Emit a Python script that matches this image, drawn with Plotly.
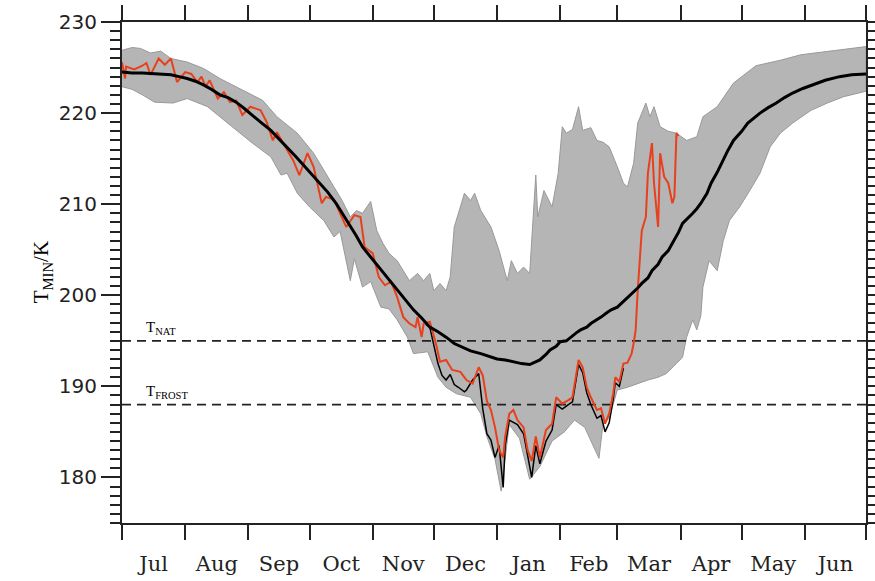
import pandas as pd
import plotly.graph_objects as go

# ---------------- data (day index counted from 1 July) ----------------
upper_days = [0, 5, 9, 14, 19, 24, 32, 40, 48, 56, 64, 69, 76, 86, 94, 102, 108, 112, 115, 118,
              122, 125, 128, 131, 135, 138, 141, 145, 148, 151, 153, 156, 159, 161, 163, 166, 168,
              171, 173, 176, 181, 185, 189, 191, 194, 197, 200, 203, 204, 207, 209, 211, 214, 216,
              218, 221, 224, 226, 230, 233, 236, 239, 243, 246, 248, 251, 253, 257, 259, 261, 264,
              268, 272, 277, 282, 285, 292, 300, 311, 323, 333, 347, 365]
upper_vals = [226.9, 227.2, 227.1, 226.6, 226.8, 226.0, 225.6, 224.9, 223.8, 222.9, 222.0, 221.4,
              219.6, 217.8, 215.6, 212.6, 210.4, 208.6, 209.3, 209.0, 210.3, 207.1, 205.7, 204.6,
              203.8, 202.7, 201.6, 202.4, 201.6, 202.4, 200.5, 201.3, 200.5, 202.0, 207.5, 209.7,
              211.2, 210.4, 211.2, 209.3, 207.5, 204.9, 201.6, 203.8, 202.4, 203.1, 202.4, 213.2,
              208.6, 211.5, 210.5, 209.7, 213.4, 218.5, 217.8, 218.2, 220.7, 218.1, 218.4, 217.0,
              216.8, 216.3, 214.1, 212.3, 211.9, 214.5, 218.9, 221.1, 219.6, 220.7, 218.5, 218.0,
              217.8, 217.0, 217.4, 219.6, 220.7, 223.3, 225.2, 225.8, 226.4, 226.8, 227.3]

lower_days = [0, 5, 10, 16, 25, 32, 42, 48, 56, 64, 73, 78, 81, 86, 92, 99, 104, 107, 112, 114,
              118, 122, 127, 131, 135, 140, 143, 150, 155, 159, 164, 171, 176, 179, 183, 186, 190,
              195, 200, 205, 211, 217, 222, 227, 234, 236, 239, 243, 248, 253, 258, 263, 267, 272,
              275, 277, 280, 282, 284, 285, 288, 292, 295, 298, 303, 308, 313, 318, 323, 329, 338,
              346, 354, 365]
lower_vals = [222.9, 222.6, 222.0, 221.2, 221.1, 221.6, 220.7, 219.6, 218.1, 216.7, 215.2, 213.2,
              213.4, 211.2, 209.7, 208.2, 206.4, 207.0, 201.6, 204.0, 200.9, 201.5, 198.7, 198.5,
              197.3, 195.4, 193.6, 193.8, 191.0, 189.9, 189.2, 188.8, 187.0, 184.5, 182.0, 178.5,
              185.8, 184.3, 179.8, 181.2, 184.0, 185.0, 186.3, 185.5, 182.1, 185.9, 186.5, 189.6,
              189.9, 190.3, 190.7, 191.0, 191.4, 192.5, 193.2, 195.4, 197.3, 196.2, 197.8, 200.9,
              203.8, 202.7, 206.0, 208.2, 209.7, 211.5, 213.4, 216.3, 217.8, 218.9, 220.3, 221.1,
              221.8, 222.4]

mean_days = [0, 5, 10, 16, 24, 28, 32, 36, 40, 44, 48, 52, 56, 60, 64, 68, 73, 77, 81, 85, 89, 93,
             97, 101, 105, 109, 112, 115, 118, 122, 127, 131, 135, 139, 143, 147, 151, 155, 159,
             163, 167, 171, 176, 180, 184, 188, 192, 196, 200, 203, 205, 208, 210, 213, 215, 218,
             220, 223, 225, 228, 230, 233, 235, 238, 240, 243, 245, 248, 250, 253, 255, 258, 260,
             263, 265, 268, 270, 273, 275, 278, 280, 282, 284, 287, 289, 292, 294, 297, 300, 304,
             307, 310, 313, 317, 321, 325, 329, 334, 339, 345, 352, 358, 365]
mean_vals = [224.5, 224.4, 224.4, 224.3, 224.2, 224.0, 223.8, 223.5, 223.1, 222.6, 222.0, 221.7,
             221.2, 220.5, 219.8, 219.0, 218.1, 217.2, 216.3, 215.3, 214.3, 213.3, 212.3, 211.3,
             210.1, 208.7, 207.5, 206.5, 205.3, 204.2, 202.7, 201.6, 200.5, 199.5, 198.4, 197.5,
             196.5, 196.0, 195.4, 194.7, 194.3, 193.9, 193.6, 193.3, 193.0, 192.9, 192.7, 192.5,
             192.4, 192.7, 192.9, 193.5, 194.0, 194.4, 194.9, 195.0, 195.4, 195.9, 196.2, 196.5,
             196.9, 197.3, 197.6, 198.1, 198.4, 198.7, 199.1, 199.8, 200.2, 200.8, 201.3, 201.9,
             202.7, 203.4, 204.2, 204.9, 205.7, 206.9, 207.9, 208.5, 209.0, 209.5, 210.1, 211.2,
             212.3, 213.5, 214.5, 215.8, 217.0, 218.0, 218.9, 219.5, 220.0, 220.6, 221.1, 221.7,
             222.2, 222.7, 223.1, 223.6, 224.0, 224.2, 224.3]

red_days = [0, 1.5, 2, 6, 10, 12, 14, 18, 21, 24, 27, 31, 34, 37, 39, 41, 43, 47, 50, 53, 56, 59,
            63, 68, 71, 74, 76, 79, 84, 87, 91, 94, 98, 100, 104, 107, 110, 114, 117, 119, 123,
            126, 129, 132, 135, 138, 141, 144, 145, 147, 148, 151, 154, 156, 159, 162, 166, 169,
            172, 175, 177, 179, 181, 183, 185, 187, 188, 190, 192, 194, 197, 199, 201, 203, 205,
            208, 211, 213, 216, 219, 221, 224, 226, 228, 230, 233, 235, 237, 239, 241, 242, 244,
            246, 248, 250, 251, 252, 253, 254, 255, 257, 258, 260, 261, 263, 264, 266, 268, 270,
            271, 272, 273]
red_vals = [225.6, 223.8, 225.1, 224.8, 225.2, 225.5, 224.2, 226.0, 225.3, 226.0, 223.4, 224.5,
            224.3, 223.4, 224.0, 222.9, 223.6, 221.6, 222.3, 221.2, 221.4, 219.8, 220.7, 220.3,
            219.0, 217.0, 217.9, 216.7, 214.8, 213.2, 215.6, 214.1, 210.1, 210.8, 210.5, 209.0,
            207.5, 208.8, 208.6, 205.3, 204.6, 202.0, 201.1, 201.5, 199.8, 197.6, 196.9, 196.5,
            197.6, 195.4, 196.9, 197.1, 194.7, 192.7, 192.9, 191.8, 191.6, 190.7, 190.3, 192.1,
            191.2, 188.4, 187.4, 185.5, 183.0, 182.2, 184.5, 187.0, 187.4, 186.3, 185.5, 183.0,
            181.8, 184.5, 182.2, 185.2, 185.9, 188.8, 188.1, 188.5, 188.8, 192.9, 192.1, 189.9,
            188.8, 187.4, 187.6, 185.9, 187.0, 189.2, 191.0, 190.5, 192.5, 192.6, 193.6, 194.7,
            196.2, 200.5, 204.2, 207.1, 208.6, 213.4, 216.7, 212.3, 207.5, 215.6, 213.0, 212.3,
            210.1, 210.8, 217.8, 217.5]

black_days = [149, 151, 153, 155, 157, 159, 161, 163, 165, 168, 169, 172, 175, 177, 179, 181, 183,
              185, 187, 188, 190, 194, 197, 199, 201, 203, 205, 208, 211, 213, 216, 219, 221, 224,
              226, 228, 230, 233, 235, 237, 239, 241, 242, 244, 246]
black_vals = [196.8, 196.5, 194.5, 192.5, 191.2, 190.7, 191.3, 190.2, 189.9, 189.4, 189.6, 190.7,
              191.4, 187.5, 184.8, 184.1, 182.2, 183.5, 178.9, 183.5, 186.3, 185.8, 184.8, 182.5,
              180.0, 183.5, 181.5, 184.0, 185.2, 188.0, 187.5, 188.0, 188.3, 192.4, 191.5, 189.3,
              188.0, 186.5, 186.8, 185.0, 186.0, 188.6, 190.4, 190.0, 192.0]

t_nat = 195.0
t_frost = 188.0
y_ticks = [180, 190, 200, 210, 220, 230]

# ---------------- figure ----------------
base = pd.Timestamp("2010-07-01")


def to_dates(days):
    return [base + pd.Timedelta(days=d) for d in days]


fig = go.Figure()

env_x = to_dates(upper_days) + to_dates(lower_days[::-1])
env_y = upper_vals + lower_vals[::-1]
fig.add_trace(go.Scatter(x=env_x, y=env_y, fill="toself", fillcolor="#b5b5b5",
                         line=dict(color="#999999", width=1), mode="lines",
                         hoverinfo="skip", showlegend=False))

x_start = base
x_end = base + pd.Timedelta(days=365)
for val in (t_nat, t_frost):
    fig.add_trace(go.Scatter(x=[x_start, x_end], y=[val, val], mode="lines",
                             line=dict(color="#222222", width=1.8, dash="9px,6px"),
                             showlegend=False))

fig.add_trace(go.Scatter(x=to_dates(black_days), y=black_vals, mode="lines",
                         line=dict(color="black", width=1.5), showlegend=False))
fig.add_trace(go.Scatter(x=to_dates(red_days), y=red_vals, mode="lines",
                         line=dict(color="#e8401c", width=2), showlegend=False))
fig.add_trace(go.Scatter(x=to_dates(mean_days), y=mean_vals, mode="lines",
                         line=dict(color="black", width=3), showlegend=False))

fig.add_annotation(x=0.03, xref="paper", y=t_nat, yref="y", yshift=13,
                   text="T<sub>NAT</sub>", showarrow=False, xanchor="left",
                   font=dict(family="Liberation Serif", size=15, color="black"))
fig.add_annotation(x=0.03, xref="paper", y=t_frost, yref="y", yshift=13,
                   text="T<sub>FROST</sub>", showarrow=False, xanchor="left",
                   font=dict(family="Liberation Serif", size=15, color="black"))
fig.add_annotation(x=-0.128, xref="paper", y=0.5, yref="paper", textangle=-90,
                   text="T<sub>MIN</sub>/K", showarrow=False,
                   font=dict(family="Liberation Serif", size=21, color="black"))

fig.update_layout(
    width=875, height=581,
    margin=dict(l=122, r=9, t=22, b=58, autoexpand=False),
    plot_bgcolor="white", paper_bgcolor="white",
    showlegend=False,
    xaxis=dict(type="date", range=[x_start, x_end], tick0="2010-07-01", dtick="M1",
               tickformat="%b", ticklabelmode="period", ticks="outside", ticklen=15,
               tickwidth=2, tickcolor="#222", showline=True, linewidth=2, linecolor="#222",
               mirror="ticks", showgrid=False, zeroline=False, automargin=False,
               ticklabelstandoff=6,
               tickfont=dict(family="DejaVu Serif", size=21, color="#222")),
    yaxis=dict(range=[175, 230], tickvals=y_ticks, ticks="outside", ticklen=19, tickwidth=2,
               tickcolor="#222", showline=True, linewidth=2, linecolor="#222", mirror="ticks",
               showgrid=False, zeroline=False, automargin=False,
               minor=dict(dtick=1, tick0=175, ticks="outside", ticklen=10, tickwidth=2,
                          tickcolor="#222", showgrid=False),
               tickfont=dict(family="DejaVu Sans", size=20, color="#222")),
)

fig.write_html("out.html")
